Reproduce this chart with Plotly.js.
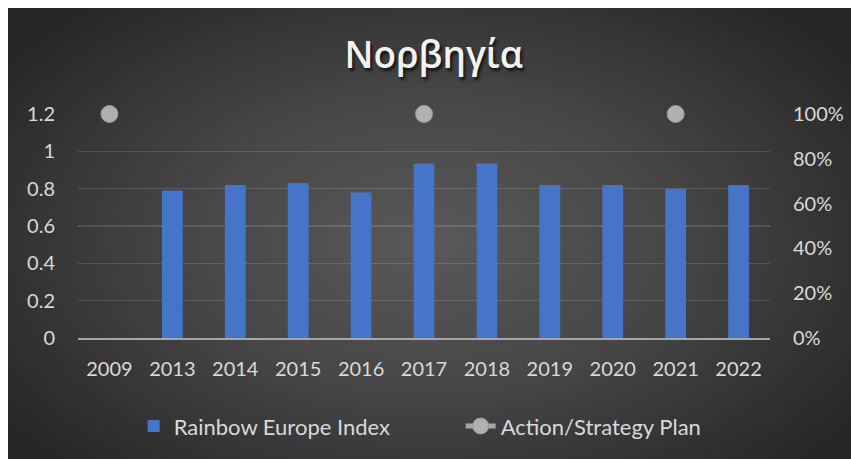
<!DOCTYPE html>
<html>
<head>
<meta charset="utf-8">
<script src="https://cdn.plot.ly/plotly-3.0.1.min.js"></script>
<style>
  html, body { margin: 0; padding: 0; background: #ffffff; }
  #chart {
    position: absolute; left: 8px; top: 8px; width: 843px; height: 451px;
    background: radial-gradient(ellipse 62% 70% at 50% 52%, #595959 0%, #474747 45%, #2f2f2f 85%, #262626 100%);
  }
</style>
</head>
<body>
<div id="chart"></div>
<script>
const years = ["2009","2013","2014","2015","2016","2017","2018","2019","2020","2021","2022"];
const rainbowIndex = [null, 0.79, 0.82, 0.83, 0.78, 0.935, 0.935, 0.82, 0.82, 0.80, 0.82];
const actionPlan = [1, null, null, null, null, 1, null, null, null, 1, null];
const leftTicks = [0, 0.2, 0.4, 0.6, 0.8, 1, 1.2];
const leftTickText = ["0", "0.2", "0.4", "0.6", "0.8", "1", "1.2"];
const rightTicks = [0, 0.2, 0.4, 0.6, 0.8, 1];
const rightTickText = ["0%", "20%", "40%", "60%", "80%", "100%"];

const tickFont = {family: "Lato, 'Noto Sans', sans-serif", size: 20, color: "#d9d9d9"};

const traces = [
  {
    type: "bar", name: "Rainbow Europe Index", x: years, y: rainbowIndex,
    marker: {color: "#4674c8", line: {width: 0}},
    yaxis: "y", hoverinfo: "x+y"
  },
  {
    type: "scatter", mode: "lines+markers", name: "Action/Strategy Plan",
    x: years, y: actionPlan, yaxis: "y2", connectgaps: false, cliponaxis: false,
    line: {color: "#a6a6a6", width: 5},
    marker: {color: "#b0b0b0", size: 17, line: {color: "#9a9a9a", width: 1}}
  }
];

const layout = {
  width: 843, height: 451,
  paper_bgcolor: "rgba(0,0,0,0)", plot_bgcolor: "rgba(0,0,0,0)",
  margin: {l: 70, r: 81, t: 106, b: 118},
  title: {
    text: "Νορβηγία", x: 0.505, xref: "container", xanchor: "center",
    y: 0.895, yref: "container", yanchor: "middle",
    font: {family: "'Open Sans', 'Noto Sans', sans-serif", size: 37, color: "#f2f2f2", weight: 600,
           shadow: "2px 3px 3px rgba(0,0,0,0.7)"}
  },
  bargap: 0.67,
  xaxis: {
    type: "category", range: [-0.5, 10.5], tickfont: tickFont, showgrid: false,
    showline: true, linecolor: "#a6a6a6", linewidth: 2,
    ticks: "", ticklabelstandoff: 12, fixedrange: true
  },
  yaxis: {
    range: [0, 1.2], tickvals: leftTicks, ticktext: leftTickText, tickfont: tickFont,
    showgrid: true, gridcolor: "rgba(255,255,255,0.13)", gridwidth: 1.5,
    zeroline: false, showline: false, ticks: "", ticklabelstandoff: 22, fixedrange: true
  },
  yaxis2: {
    overlaying: "y", side: "right", range: [0, 1],
    tickvals: rightTicks, ticktext: rightTickText, tickfont: tickFont,
    showgrid: false, zeroline: false, showline: false, ticks: "", ticklabelstandoff: 22
  },
  legend: {
    orientation: "h", x: 0.553, xanchor: "center", y: -0.3, yanchor: "top",
    font: {family: "Lato, 'Noto Sans', sans-serif", size: 22, color: "#d9d9d9"},
    bgcolor: "rgba(0,0,0,0)", entrywidth: 282, entrywidthmode: "pixels"
  },
  showlegend: true
};

Plotly.newPlot("chart", traces, layout, {displayModeBar: false, staticPlot: true});
</script>
</body>
</html>
